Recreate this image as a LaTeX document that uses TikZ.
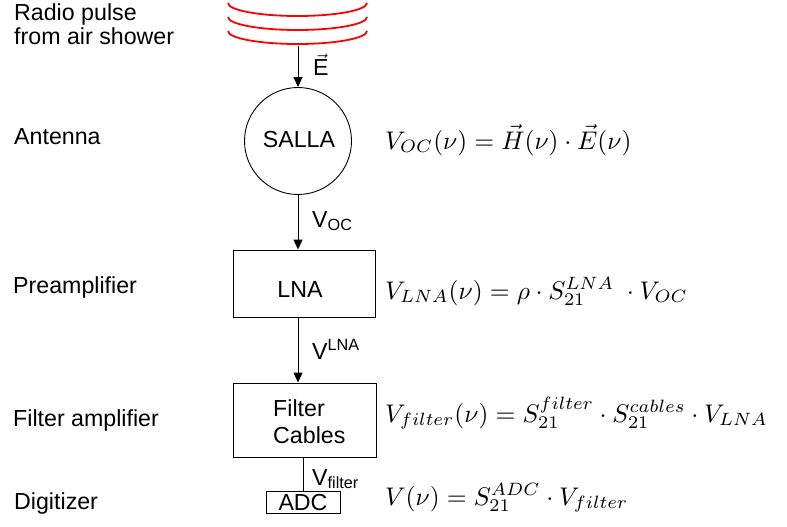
\RequirePackage{fix-cm}
\documentclass[tikz,border=0pt]{standalone}
\usepackage{graphicx}
\usepackage{fontspec}
\setmainfont{Liberation Sans}
\usetikzlibrary{arrows.meta}
\newcommand{\eqsc}[1]{\scalebox{2.55}{$#1$}}
\tikzset{
  txt/.style={anchor=base west, inner sep=0pt, font=\fontsize{23.2}{24}\selectfont},
  eqn/.style={anchor=base west, inner sep=0pt, font=\fontsize{10}{12}\selectfont},
  boxn/.style={draw, line width=0.9pt, inner sep=0pt},
  arr/.style={line width=1pt, -{Triangle[width=9pt,length=10pt]}},
  wave/.style={red, line width=1.8pt},
}
\begin{document}
\begin{tikzpicture}[x=1pt,y=-1pt]
\useasboundingbox (0,0) rectangle (787,527);
% waves
\foreach \yy in {3,17,31}
  \draw[wave] (228,\yy) arc[start angle=180,end angle=360,x radius=69.5pt,y radius=13pt];
\coordinate (wbot) at (298,46);
% left labels
\node[txt] (l1) at (14,21) {Radio pulse};
\node[txt] (l2) at (14,45) {from air shower};
\node[txt] (l3) at (14,144) {Antenna};
\node[txt] (l4) at (13,293) {Preamplifier};
\node[txt] (l5) at (13,426) {Filter amplifier};
\node[txt] (l6) at (14,509) {Digitizer};
% antenna
\node[draw, circle, line width=0.9pt, minimum size=107pt, inner sep=0pt] (salla) at (298,141) {};
\node[txt, anchor=base] (sallat) at (299,147) {SALLA};
% LNA box
\node[boxn, minimum width=142pt, minimum height=67pt] (lna) at (304,283.5) {};
\node[txt, anchor=base] (lnat) at (300,297) {LNA};
% Filter box
\node[boxn, minimum width=143pt, minimum height=74pt] (filt) at (305,420) {};
\node[txt, align=left, anchor=north west] (filtt) at (273,399) {Filter\\[3pt]Cables};
% ADC
\node[boxn, minimum width=74pt, minimum height=22pt] (adc) at (303,502) {};
\node[txt, anchor=base] (adct) at (303,510) {ADC};
% connectors
\draw[arr] (wbot) -- (salla.north);
\draw[arr] (salla.south) -- (salla.south |- lna.north);
\draw[arr] (salla.south |- lna.south) -- (salla.south |- filt.north);
\draw[line width=1pt] (adc.north |- filt.south) -- (adc.north);
% connector labels
\node[txt] (lE) at (313,76) {$\vec{\mbox{E}}$};
\node[txt] (lvoc) at (312,227) {V\textsubscript{OC}};
\node[txt] (lvlna) at (312,359) {V\textsuperscript{LNA}};
\node[txt] (lvf) at (312,485) {V\textsubscript{filter}};
% equations
\node[eqn] (e1) at (385,149) {\eqsc{V_{OC}(\nu) = \vec{H}(\nu)\cdot\vec{E}(\nu)}};
\node[eqn] (e2) at (385,299) {\eqsc{V_{LNA}(\nu) = \rho\cdot S_{21}^{LNA}\ \cdot V_{OC}}};
\node[eqn] (e3) at (385,422) {\eqsc{V_{filter}(\nu) = S_{21}^{filter}\cdot S_{21}^{cables}\cdot V_{LNA}}};
\node[eqn] (e4) at (385,505) {\eqsc{V(\nu) = S_{21}^{ADC}\cdot V_{filter}}};
\end{tikzpicture}
\end{document}
